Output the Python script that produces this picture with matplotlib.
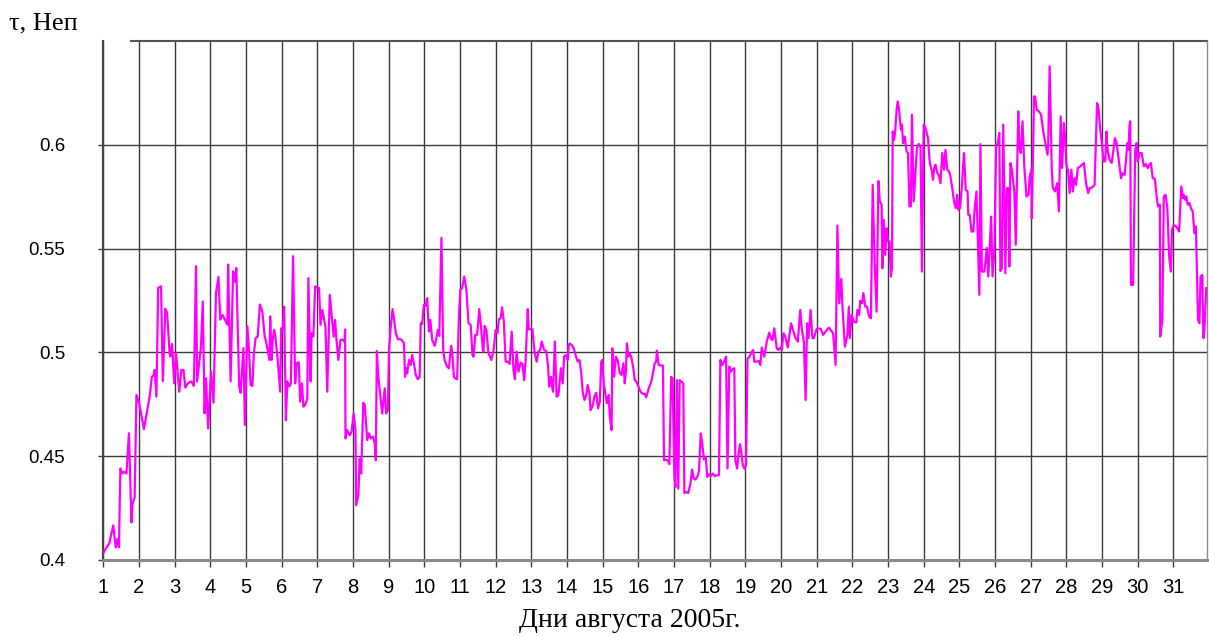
import matplotlib
matplotlib.use('Agg')
import matplotlib.pyplot as plt

# time in days of August 2005 and optical depth tau (Np)
days = [
    1.00, 1.07, 1.17, 1.28, 1.35, 1.40, 1.44, 1.48, 1.53, 1.58, 1.65, 1.72, 1.79, 1.82, 1.88, 1.93,
    2.00, 2.14, 2.30, 2.36, 2.41, 2.44, 2.49, 2.54, 2.62, 2.67, 2.74, 2.79, 2.86, 2.88, 2.93, 2.99,
    3.04, 3.13, 3.19, 3.25, 3.30, 3.37, 3.46, 3.51, 3.54, 3.60, 3.63, 3.69, 3.74, 3.79, 3.84, 3.88,
    3.94, 4.02, 4.09, 4.16, 4.23, 4.28, 4.34, 4.39, 4.48, 4.50, 4.57, 4.64, 4.69, 4.73, 4.81, 4.85,
    4.93, 4.97, 5.04, 5.09, 5.13, 5.18, 5.22, 5.27, 5.33, 5.39, 5.46, 5.52, 5.60, 5.66, 5.68, 5.72,
    5.75, 5.79, 5.83, 5.89, 5.96, 5.99, 6.03, 6.07, 6.12, 6.16, 6.22, 6.26, 6.32, 6.38, 6.42, 6.48,
    6.52, 6.57, 6.61, 6.66, 6.72, 6.75, 6.81, 6.84, 6.89, 6.94, 7.01,
    7.05, 7.09, 7.14, 7.18, 7.23, 7.28, 7.35, 7.40, 7.46, 7.50, 7.53, 7.59, 7.65, 7.72, 7.76, 7.78,
    7.79, 7.84, 7.91, 7.96, 8.02, 8.07, 8.09, 8.15, 8.19, 8.23, 8.29, 8.33, 8.40, 8.45, 8.50, 8.56,
    8.61, 8.64, 8.67, 8.71, 8.77, 8.82, 8.89, 8.93, 8.98, 9.01, 9.06, 9.11, 9.15, 9.20, 9.26, 9.34,
    9.38, 9.43, 9.46, 9.50, 9.52, 9.57, 9.62, 9.66, 9.71, 9.76, 9.82, 9.87, 9.90, 9.94, 9.99, 10.04,
    10.08, 10.13, 10.17, 10.22, 10.29, 10.33, 10.38, 10.42, 10.48, 10.53, 10.57, 10.64, 10.69, 10.75,
    10.78, 10.83, 10.87, 10.92, 10.97, 11.01, 11.06, 11.12, 11.18, 11.24, 11.30, 11.35, 11.38, 11.43,
    11.48, 11.54, 11.59, 11.64, 11.66, 11.69, 11.74, 11.80, 11.88, 11.95, 12.00, 12.05, 12.09, 12.14,
    12.18, 12.23, 12.28, 12.34, 12.39, 12.45, 12.50, 12.54, 12.59, 12.64, 12.70, 12.75, 12.80, 12.84,
    12.90, 12.93, 13.03, 13.09, 13.15,
    13.20, 13.25, 13.29, 13.36, 13.42, 13.47, 13.50, 13.55, 13.58, 13.61, 13.66, 13.71, 13.76, 13.83,
    13.88, 13.92, 13.97, 14.02, 14.05, 14.08, 14.13, 14.19, 14.24, 14.30, 14.35, 14.40, 14.44, 14.49,
    14.54, 14.58, 14.63, 14.66, 14.71, 14.77, 14.82, 14.87, 14.92, 14.96, 14.99, 15.03, 15.08, 15.12,
    15.17, 15.20, 15.25, 15.27, 15.32, 15.37, 15.42, 15.48, 15.53, 15.58, 15.62, 15.65, 15.68, 15.72,
    15.76, 15.81, 15.86, 15.90, 15.95, 16.04, 16.10, 16.18, 16.22, 16.29, 16.36, 16.41, 16.46, 16.50,
    16.52, 16.57, 16.64, 16.69, 16.72, 16.78, 16.83, 16.87, 16.92, 16.96, 17.01, 17.04, 17.08, 17.12,
    17.16, 17.21, 17.26, 17.29, 17.34, 17.40, 17.46, 17.51, 17.55, 17.60, 17.66, 17.70, 17.75, 17.79,
    17.84, 17.89, 17.93, 17.98, 18.03, 18.09, 18.15, 18.21, 18.26, 18.30, 18.35, 18.38, 18.42, 18.46,
    18.50, 18.55, 18.59, 18.64, 18.69, 18.72, 18.77, 18.81, 18.85, 18.89, 18.93, 18.97, 19.02, 19.06,
    19.11, 19.18, 19.22, 19.25, 19.31, 19.37, 19.42,
    19.46, 19.53, 19.60, 19.67, 19.72, 19.76, 19.81, 19.88, 19.93, 19.98, 20.02, 20.07, 20.12, 20.19,
    20.25, 20.28, 20.35, 20.40, 20.47, 20.54, 20.58, 20.64, 20.69, 20.73, 20.77, 20.83, 20.88, 20.92,
    20.99, 21.02, 21.11, 21.18, 21.25, 21.34, 21.39, 21.46, 21.53, 21.58, 21.63, 21.69, 21.72, 21.79,
    21.86, 21.90, 21.93, 21.98, 22.04, 22.11, 22.14, 22.19, 22.22, 22.27, 22.31, 22.36, 22.41, 22.47,
    22.52, 22.57, 22.63, 22.68, 22.73, 22.77, 22.82, 22.84, 22.88, 22.92, 22.96, 23.00, 23.04, 23.08,
    23.11, 23.13, 23.17, 23.20, 23.24, 23.27, 23.31, 23.36, 23.39, 23.42, 23.47, 23.52, 23.56, 23.60,
    23.64, 23.67, 23.72, 23.77, 23.81, 23.86, 23.91, 23.95, 24.00, 24.05, 24.12, 24.17, 24.22, 24.26,
    24.30, 24.33, 24.38, 24.42, 24.47, 24.52, 24.57, 24.61, 24.66, 24.71, 24.75, 24.80, 24.85, 24.90,
    24.94, 24.97, 25.02, 25.07, 25.10, 25.13, 25.18, 25.23, 25.25, 25.29, 25.34, 25.39, 25.43, 25.48,
    25.56, 25.59, 25.63, 25.70, 25.77, 25.81, 25.85, 25.89, 25.93, 25.98, 26.03, 26.07, 26.12, 26.15,
    26.19, 26.23, 26.29, 26.33, 26.38, 26.40, 26.43, 26.47, 26.54, 26.58, 26.65, 26.68, 26.72, 26.77,
    26.82, 26.88, 26.94, 26.97, 27.02, 27.03, 27.07, 27.09, 27.12, 27.17, 27.23, 27.29, 27.35, 27.42,
    27.47, 27.49, 27.53, 27.59, 27.62, 27.68, 27.74, 27.79, 27.84, 27.88, 27.93, 27.97, 28.00, 28.05,
    28.09, 28.14, 28.18, 28.23, 28.27, 28.32, 28.39, 28.49, 28.55, 28.61, 28.65, 28.72, 28.79, 28.86,
    28.90, 28.95, 29.00, 29.04, 29.09, 29.12, 29.16, 29.21, 29.27, 29.32, 29.36, 29.41, 29.46, 29.53,
    29.57, 29.63, 29.66, 29.71, 29.74, 29.77, 29.79, 29.81, 29.87, 29.93, 29.97, 30.00, 30.05, 30.11,
    30.17, 30.23, 30.28, 30.33, 30.37, 30.42, 30.48, 30.53, 30.57, 30.62, 30.63, 30.69, 30.73, 30.78,
    30.83, 30.88, 30.93, 30.96, 31.01, 31.08, 31.16, 31.22, 31.27, 31.29, 31.33, 31.36, 31.40, 31.45,
    31.49, 31.54, 31.59, 31.63, 31.69, 31.73, 31.76, 31.81, 31.84, 31.87, 31.92,
]

tau = [
    0.4032, 0.4053, 0.4080, 0.4166, 0.4060, 0.4100, 0.4060, 0.4440, 0.4416, 0.4424, 0.4416, 0.4610, 0.4180, 0.4270, 0.4300, 0.4794,
    0.4760, 0.4630, 0.4786, 0.4880, 0.4890, 0.4915, 0.4786, 0.5310, 0.5318, 0.4860, 0.5210, 0.5190, 0.4996, 0.4980, 0.5040, 0.4850,
    0.4996, 0.4810, 0.4915, 0.4915, 0.4830, 0.4850, 0.4860, 0.4850, 0.4838, 0.5415, 0.4860, 0.4947, 0.5030, 0.5245, 0.4706, 0.4875,
    0.4633, 0.4907, 0.4757, 0.5286, 0.5363, 0.5157, 0.5180, 0.5165, 0.5133, 0.5423, 0.4860, 0.5390, 0.5340, 0.5406, 0.4835, 0.4805,
    0.5020, 0.4650, 0.5125, 0.4996, 0.4843, 0.4838, 0.4988, 0.5068, 0.5076, 0.5230, 0.5197, 0.5084, 0.5020, 0.4963, 0.5173, 0.4963,
    0.5060, 0.5108, 0.5068, 0.4963, 0.4810, 0.5116, 0.5108, 0.5220, 0.4673, 0.4860, 0.4835, 0.4850, 0.5463, 0.4850, 0.4947, 0.4952,
    0.4762, 0.4850, 0.4738, 0.4746, 0.4778, 0.5358, 0.4860, 0.5092, 0.5076, 0.5318, 0.5310,
    0.5310, 0.5132, 0.5204, 0.5170, 0.5120, 0.4810, 0.5277, 0.5188, 0.5076, 0.5156, 0.5076, 0.4963, 0.5060, 0.5060, 0.5052, 0.5110,
    0.4585, 0.4625, 0.4600, 0.4617, 0.4705, 0.4625, 0.4263, 0.4310, 0.4488, 0.4416, 0.4757, 0.4746, 0.4577, 0.4610, 0.4585, 0.4593,
    0.4560, 0.4480, 0.5006, 0.4882, 0.4786, 0.4705, 0.4826, 0.4705, 0.4721, 0.5011, 0.5124, 0.5208, 0.5164, 0.5092, 0.5063, 0.5063,
    0.5056, 0.5043, 0.4882, 0.4923, 0.4899, 0.4963, 0.4939, 0.4987, 0.4947, 0.4891, 0.4870, 0.4882, 0.5140, 0.5137, 0.5229, 0.5224,
    0.5261, 0.5100, 0.5156, 0.5060, 0.5031, 0.5060, 0.5108, 0.5079, 0.5551, 0.5011, 0.4963, 0.4931, 0.4923, 0.5031,
    0.5003, 0.4882, 0.4874, 0.4870, 0.5172, 0.5301, 0.5309, 0.5365, 0.5301, 0.5140, 0.5132, 0.4987, 0.4979, 0.5084,
    0.5084, 0.5208, 0.5124, 0.5011, 0.5003, 0.5127, 0.5108, 0.4995, 0.4963, 0.5019, 0.5108, 0.5092, 0.5159, 0.5164,
    0.5217, 0.5148, 0.4955, 0.4955, 0.4944, 0.5100, 0.4915, 0.4870, 0.5003, 0.4907, 0.4950, 0.4944, 0.4866, 0.4963,
    0.5208, 0.5111, 0.5111, 0.5003, 0.4955,
    0.5003, 0.5011, 0.5052, 0.5011, 0.5006, 0.4931, 0.4834, 0.4882, 0.4834, 0.4810, 0.5052, 0.4786, 0.4794, 0.4923,
    0.4850, 0.4979, 0.4987, 0.4963, 0.5035, 0.5043, 0.5035, 0.5019, 0.4987, 0.4955, 0.4963, 0.4899, 0.4810, 0.4770,
    0.4794, 0.4842, 0.4802, 0.4721, 0.4737, 0.4786, 0.4805, 0.4730, 0.4762, 0.4955, 0.4963, 0.4850, 0.4794, 0.4754,
    0.4794, 0.4689, 0.4625, 0.5019, 0.4882, 0.4979, 0.4963, 0.4899, 0.4891, 0.4947, 0.4850, 0.4907, 0.5043, 0.4979,
    0.4995, 0.4971, 0.4923, 0.4866, 0.4858, 0.4818, 0.4802, 0.4799, 0.4783, 0.4826, 0.4858, 0.4899, 0.4947, 0.4955,
    0.5008, 0.4939, 0.4936, 0.4936, 0.4480, 0.4483, 0.4477, 0.4461, 0.4882, 0.4874, 0.4400, 0.4351, 0.4866, 0.4343,
    0.4866, 0.4858, 0.4850, 0.4322, 0.4327, 0.4322, 0.4367, 0.4435, 0.4391, 0.4387, 0.4403, 0.4428, 0.4609, 0.4560,
    0.4483, 0.4496, 0.4400, 0.4412, 0.4403, 0.4416, 0.4403, 0.4408, 0.4408, 0.4963, 0.4939, 0.4947, 0.4963, 0.4979,
    0.4440, 0.4931, 0.4907, 0.4918, 0.4923, 0.4480, 0.4440, 0.4512, 0.4557, 0.4512, 0.4456, 0.4440, 0.4456, 0.4971,
    0.4976, 0.5003, 0.5011, 0.4955, 0.4955, 0.4958, 0.4939,
    0.5023, 0.4979, 0.5051, 0.5095, 0.5064, 0.5059, 0.5116, 0.5019, 0.5011, 0.5023, 0.5011, 0.5092, 0.5076, 0.5023,
    0.5100, 0.5140, 0.5100, 0.5071, 0.5051, 0.5204, 0.5116, 0.5051, 0.4770, 0.5140, 0.5068, 0.5204, 0.5068, 0.5068,
    0.5108, 0.5116, 0.5113, 0.5084, 0.5100, 0.5119, 0.5108, 0.5092, 0.4939, 0.5611, 0.5236, 0.5354, 0.5228, 0.5027,
    0.5084, 0.5220, 0.5068, 0.5180, 0.5148, 0.5143, 0.5204, 0.5180, 0.5248, 0.5236, 0.5285, 0.5220, 0.5220, 0.5172,
    0.5164, 0.5807, 0.5405, 0.5196, 0.5826, 0.5727, 0.5711, 0.5405, 0.5638, 0.5470, 0.5598, 0.5534, 0.5534, 0.5365,
    0.5405, 0.6064, 0.6024, 0.6064, 0.6169, 0.6209, 0.6169, 0.6073, 0.6097, 0.6008, 0.6040, 0.5968, 0.5960, 0.5703,
    0.5703, 0.6145, 0.5727, 0.5872, 0.5984, 0.6004, 0.5992, 0.5389, 0.6097, 0.6081, 0.6032, 0.5912, 0.5880, 0.5831,
    0.5896, 0.5904, 0.5863, 0.5855, 0.5815, 0.5960, 0.5880, 0.5976, 0.5880, 0.5872, 0.5847, 0.5791, 0.5727, 0.5695,
    0.5759, 0.5687, 0.5695, 0.5799, 0.5888, 0.5960, 0.5783, 0.5775, 0.5662, 0.5662, 0.5582, 0.5582, 0.5695, 0.5775,
    0.5277, 0.6003, 0.5389, 0.5389, 0.5503, 0.5365, 0.5503, 0.5654, 0.5365, 0.5487, 0.6000, 0.6003, 0.6057, 0.5392,
    0.5405, 0.6097, 0.5381, 0.5791, 0.5791, 0.5413, 0.5912, 0.5880, 0.5775, 0.5518, 0.6161, 0.5992, 0.5960, 0.6113,
    0.5896, 0.5751, 0.5759, 0.5847, 0.5880, 0.5646, 0.6000, 0.6233, 0.6233, 0.6169, 0.6161, 0.6145, 0.6064, 0.6000,
    0.5952, 0.6008, 0.6378, 0.5880, 0.5791, 0.5775, 0.5815, 0.5679, 0.6137, 0.5888, 0.6105, 0.6024, 0.5904, 0.5872,
    0.5767, 0.5880, 0.5775, 0.5839, 0.5807, 0.5888, 0.5896, 0.5912, 0.5815, 0.5767, 0.5791, 0.5794, 0.5807, 0.6201,
    0.6177, 0.6073, 0.6000, 0.5920, 0.5920, 0.6064, 0.5968, 0.5928, 0.5912, 0.5976, 0.6032, 0.6008, 0.5936, 0.5839,
    0.5863, 0.5855, 0.5904, 0.6008, 0.5976, 0.6097, 0.6113, 0.5325, 0.5325, 0.5976, 0.6008, 0.5920, 0.5960, 0.5960,
    0.5896, 0.5907, 0.5888, 0.5904, 0.5912, 0.5839, 0.5836, 0.5751, 0.5703, 0.5711, 0.5076, 0.5156, 0.5751, 0.5759,
    0.5695, 0.5463, 0.5389, 0.5590, 0.5614, 0.5606, 0.5582, 0.5799, 0.5743, 0.5759, 0.5735, 0.5751, 0.5711, 0.5719,
    0.5695, 0.5679, 0.5574, 0.5606, 0.5156, 0.5140, 0.5365, 0.5373, 0.5068, 0.5108, 0.5309,
]

day_ticks = list(range(1, 32))
tau_ticks = [0.4, 0.45, 0.5, 0.55, 0.6]
tau_labels = ['0.4', '0.45', '0.5', '0.55', '0.6']

fig = plt.figure(figsize=(12.09, 6.36), dpi=100)
ax = fig.add_axes([0.0854, 0.1198, 0.9126, 0.8157])

grid_c = '#3a3a3a'
for d in day_ticks:
    ax.axvline(d, color=grid_c, lw=1.0, zorder=1)
for t in tau_ticks[1:]:
    ax.axhline(t, color=grid_c, lw=1.0, zorder=1)

ax.plot(days, tau, color='#FF00FF', lw=1.6, zorder=3)

ax.set_xlim(1, 31.93)
ax.set_ylim(0.4, 0.65)

ax.set_xticks(day_ticks)
ax.set_xticklabels([str(d) for d in day_ticks])
ax.set_yticks(tau_ticks)
ax.set_yticklabels(tau_labels)

for lab in ax.get_xticklabels():
    lab.set_fontfamily('Liberation Sans')
    lab.set_fontsize(14.5)
for lab in ax.get_yticklabels():
    lab.set_fontfamily('Liberation Sans')
    lab.set_fontsize(13.5)

ax.tick_params(axis='x', direction='out', length=5, width=1, color=grid_c, pad=8)
ax.tick_params(axis='y', direction='out', length=3.5, width=1, color=grid_c, pad=24)

ax.spines['top'].set_visible(False)
ax.spines['left'].set_color('#444444')
ax.spines['left'].set_linewidth(1.5)
ax.spines['bottom'].set_color('#8a8a8a')
ax.spines['bottom'].set_linewidth(2.2)
ax.spines['right'].set_color('#8a8a8a')
ax.spines['right'].set_linewidth(1.0)
# top frame line starts a little right of the left spine
ax.axhline(0.65, xmin=0.025, xmax=1.0, color='#555555', lw=1.5, clip_on=False, zorder=2)

fig.text(9 / 1209, 1 - 29 / 636, 'τ, Неп', family='Liberation Serif', fontsize=19,
         ha='left', va='baseline')
fig.text(630 / 1209, 1 - 627 / 636, 'Дни августа 2005г.', family='Liberation Serif',
         fontsize=20, ha='center', va='baseline')

fig.savefig('out.png', dpi=100)
